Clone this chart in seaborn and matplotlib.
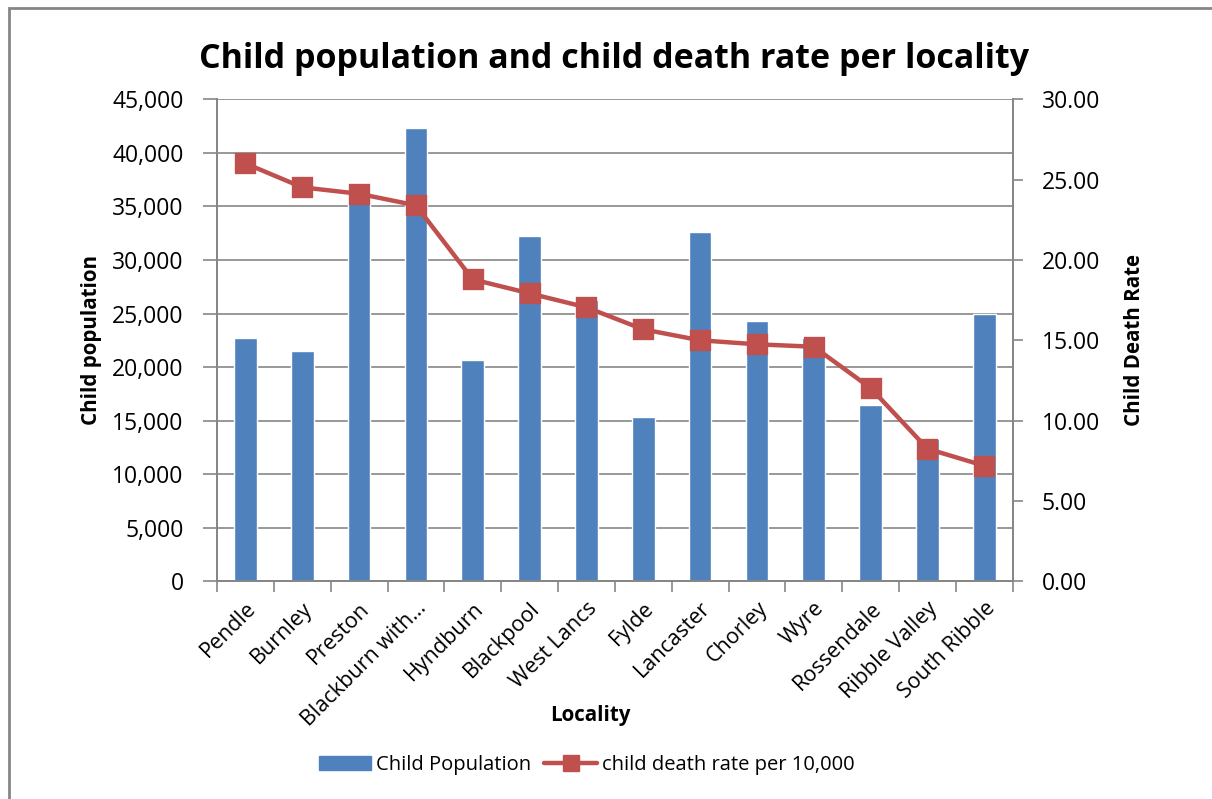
import matplotlib
matplotlib.use("Agg")
import matplotlib.pyplot as plt
import matplotlib.ticker as mticker
import matplotlib.patches as mpatches
from matplotlib.lines import Line2D
import seaborn as sns
import pandas as pd

localities = ["Pendle", "Burnley", "Preston", "Blackburn with\u2026", "Hyndburn", "Blackpool",
              "West Lancs", "Fylde", "Lancaster", "Chorley", "Wyre", "Rossendale",
              "Ribble Valley", "South Ribble"]
child_population = [22700, 21500, 35600, 42300, 20700, 32200, 26300, 15300, 32600,
                    24300, 22700, 16500, 13300, 25000]
death_rate = [26.01, 24.52, 24.12, 23.40, 18.79, 17.92, 17.05, 15.68, 15.00, 14.75,
              14.60, 12.03, 8.25, 7.19]

df = pd.DataFrame({"Locality": localities, "pop": child_population, "rate": death_rate})

BAR = "#4F81BD"
LINE = "#C0504D"
GRID = "#868686"
FONT = ["Open Sans", "DejaVu Sans"]

sns.set_theme(style="white")
plt.rcParams["font.family"] = FONT
plt.rcParams["text.color"] = "black"
plt.rcParams["axes.labelcolor"] = "black"

fig = plt.figure(figsize=(12.12, 7.99), dpi=100)
ax = fig.add_axes([217/1212, 1-581.3/799, (1012.7-217)/1212, (581.3-99.3)/799])

sns.barplot(data=df, x="Locality", y="pop", color=BAR, width=0.40, saturation=1,
            ax=ax, zorder=2)
ax.set_ylim(0, 45000)
ax.set_yticks(range(0, 45001, 5000))
ax.yaxis.set_major_formatter(mticker.StrMethodFormatter("{x:,.0f}"))
ax.yaxis.grid(True, color=GRID, linewidth=1.2)
ax.set_axisbelow(True)
ax.set_xlim(-0.5, len(localities) - 0.5)

ax2 = ax.twinx()
sns.pointplot(data=df, x="Locality", y="rate", color=LINE, markers="s", markersize=13,
              linewidth=3.2, ax=ax2)
ax2.set_ylim(0, 30)
ax2.set_yticks(range(0, 31, 5))
ax2.yaxis.set_major_formatter(mticker.StrMethodFormatter("{x:.2f}"))
ax2.set_xlim(-0.5, len(localities) - 0.5)

for a in (ax, ax2):
    for s in a.spines.values():
        s.set_color(GRID)
        s.set_linewidth(1.3)
    a.spines["top"].set_visible(False)

ax.tick_params(axis="y", which="both", left=True, length=10, width=1.2, color=GRID,
               labelsize=16.5, pad=14, labelcolor="black")
ax2.tick_params(axis="y", which="both", right=True, length=7, width=1.2, color=GRID,
                labelsize=16.5, pad=14, labelcolor="black")
ax.tick_params(axis="x", which="major", bottom=False, labelsize=15.5, pad=6,
               labelcolor="black")
ax.set_xticks(range(len(localities)))
ax.set_xticklabels(localities, rotation=45, ha="right", rotation_mode="anchor")
ax.set_xticks([i - 0.5 for i in range(len(localities) + 1)], minor=True)
ax.tick_params(axis="x", which="minor", bottom=True, length=8, width=1.2, color=GRID)

ax.set_xlabel("Locality", fontsize=14.8, fontweight="bold")
ax.xaxis.set_label_coords((590 - 217) / 795.7, (581.3 - 715) / 482)
ax.xaxis.label.set_va("center")
ax.set_ylabel("Child population", fontsize=14.8, fontweight="bold", labelpad=7)
ax2.set_ylabel("Child Death Rate", fontsize=14.8, fontweight="bold", labelpad=17)
ax2.grid(False)

fig.text(0.507, 1 - 68/799, "Child population and child death rate per locality",
         ha="center", va="baseline", fontsize=24.5, fontweight="bold")

handles = [mpatches.Patch(color=BAR, label="Child Population"),
           Line2D([0], [0], color=LINE, linewidth=3.2, marker="s", markersize=11,
                  label="child death rate per 10,000")]
fig.legend(handles=handles, loc="center", bbox_to_anchor=(0.484, 0.043), ncol=2,
           frameon=False, fontsize=14.5, handlelength=2.6, handletextpad=0.25,
           columnspacing=0.65)

border = mpatches.Rectangle((9/1212, -0.05), 1.1, 1 - 8/799 + 0.05, transform=fig.transFigure,
                            fill=False, edgecolor=GRID, linewidth=2, clip_on=False)
fig.patches.append(border)

fig.savefig("out.png", dpi=100, facecolor="white")
